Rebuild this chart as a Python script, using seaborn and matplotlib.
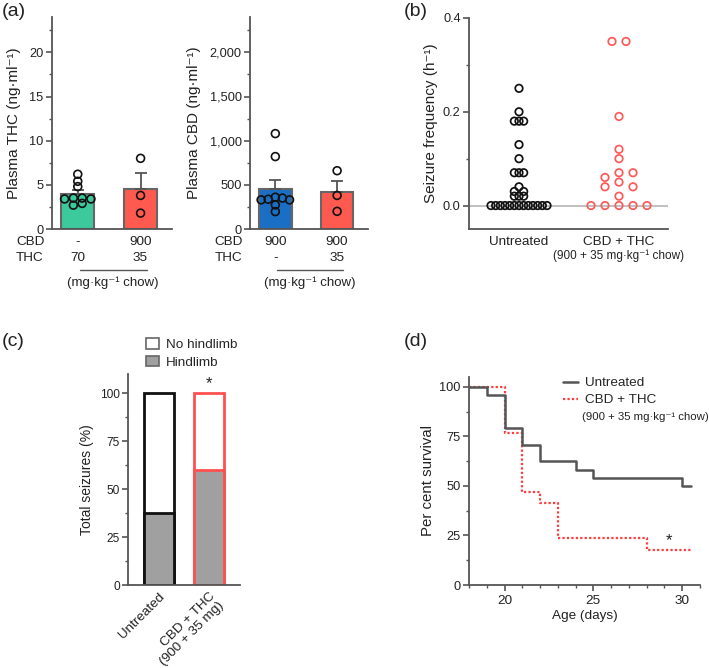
import numpy as np
import pandas as pd
import matplotlib
matplotlib.use("Agg")
import matplotlib.pyplot as plt
import seaborn as sns
from matplotlib.ticker import MultipleLocator, FuncFormatter, FormatStrFormatter
from matplotlib.patches import Patch
from matplotlib.lines import Line2D

# ---------------- data ----------------
thc_groups = ["THC 70", "CBD+THC"]
thc_thc70 = [6.2, 5.4, 4.8, 3.5, 3.5, 3.4, 3.4, 2.9, 2.7]
thc_combo = [8.0, 3.8, 1.8]
thc_cbd_row = ["-", "900"]
thc_thc_row = ["70", "35"]

cbd_groups = ["CBD 900", "CBD+THC"]
cbd_cbd900 = [1080, 820, 330, 360, 350, 330, 337, 273, 197]
cbd_combo = [660, 380, 200]
cbd_cbd_row = ["900", "900"]
cbd_thc_row = ["-", "35"]

freq_groups = ["Untreated", "CBD + THC"]
freq_untreated = [0.25, 0.20, 0.18, 0.18, 0.18, 0.13, 0.10, 0.07, 0.07, 0.07,
                  0.04, 0.03, 0.03, 0.02, 0.02, 0.02] + [0.0] * 13
freq_combo = [0.35, 0.35, 0.19, 0.12, 0.10, 0.07, 0.07, 0.06, 0.05, 0.04,
              0.04, 0.02, 0.0, 0.0, 0.0, 0.0, 0.0]

seiz_groups = ["Untreated", "CBD + THC\n(900 + 35 mg)"]
seiz_total = [100, 100]
seiz_hindlimb = [37.5, 60]

surv_untreated_day = [18, 19, 20, 21, 22, 24, 25, 30, 30.5]
surv_untreated_pct = [100, 95.8, 79.2, 70.8, 62.5, 58.3, 54.2, 50, 50]
surv_combo_day = [18, 20, 21, 22, 23, 28, 30.5]
surv_combo_pct = [100, 76.5, 47.1, 41.2, 23.5, 17.6, 17.6]

# ---------------- style ----------------
sns.set_style("ticks")
plt.rcParams["font.family"] = ["Liberation Sans", "DejaVu Sans"]
plt.rcParams["axes.edgecolor"] = "#555555"
plt.rcParams["xtick.color"] = "#555555"
plt.rcParams["ytick.color"] = "#555555"
plt.rcParams["xtick.labelcolor"] = "#222222"
plt.rcParams["ytick.labelcolor"] = "#222222"
plt.rcParams["axes.linewidth"] = 1.3
plt.rcParams["xtick.major.width"] = 1.2
plt.rcParams["ytick.major.width"] = 1.2
plt.rcParams["xtick.minor.width"] = 1.0
plt.rcParams["ytick.minor.width"] = 1.0

TXT = "#222222"
TICK_FS = 9.2
W, H = 709, 668
fig = plt.figure(figsize=(W / 100, H / 100), dpi=100)


def px_axes(x0, y0, x1, y1):
    return fig.add_axes([x0 / W, 1 - y1 / H, (x1 - x0) / W, (y1 - y0) / H])


def style_axes(ax):
    sns.despine(ax=ax)
    ax.tick_params(labelsize=TICK_FS, length=4)
    ax.tick_params(axis="y", pad=2)
    ax.tick_params(which="minor", length=2.5)


def centre_out(n, spacing):
    pos = (np.arange(n) - (n - 1) / 2) * spacing
    order = sorted(range(n), key=lambda i: (abs(pos[i]), -pos[i]))
    return pos[order]


def spread(values, clusters, spacing):
    values = np.asarray(values, dtype=float)
    clusters = np.asarray(clusters)
    out = np.zeros(len(values))
    for c in np.unique(clusters):
        idx = np.where(clusters == c)[0]
        idx = idx[np.argsort(-values[idx], kind="stable")]
        out[idx] = centre_out(len(idx), spacing)
    return out


def greedy_clusters(values, thr):
    values = np.asarray(values, dtype=float)
    order = np.argsort(-values, kind="stable")
    cl = np.zeros(len(values), dtype=int)
    cid, top = -1, None
    for i in order:
        if top is None or top - values[i] > thr:
            cid += 1
            top = values[i]
        cl[i] = cid
    return cl


def plasma_panel(ax, groups, a, b, colors, ymax, major, minor, ylabel,
                 row1, row2, fmt, binw, spacing):
    df = pd.DataFrame({"group": [groups[0]] * len(a) + [groups[1]] * len(b),
                       "val": a + b})
    sns.barplot(data=df, x="group", y="val", hue="group", order=groups,
                palette=dict(zip(groups, colors)), errorbar=None, width=0.53,
                saturation=1, edgecolor="#666666", linewidth=1.5, legend=False,
                ax=ax)
    stats = df.groupby("group")["val"].agg(["mean", "sem"]).reindex(groups)
    ax.errorbar(x=np.arange(len(groups)), y=stats["mean"],
                yerr=[np.zeros(len(groups)), stats["sem"]], fmt="none",
                ecolor="#555555", elinewidth=1.3, capsize=4, capthick=1.3, zorder=2)
    df["code"] = df["group"].map({g: i for i, g in enumerate(groups)})
    df["off"] = 0.0
    for g, sub in df.groupby("group"):
        df.loc[sub.index, "off"] = spread(sub["val"].values,
                                          np.floor(sub["val"].values / binw), spacing)
    df["xpos"] = df["code"] + df["off"]
    sns.scatterplot(data=df, x="xpos", y="val", color="black", s=32,
                    legend=False, ax=ax, zorder=4)
    for coll in ax.collections:
        if isinstance(coll, matplotlib.collections.PathCollection):
            coll.set_facecolor("none")
            coll.set_edgecolor("#111111")
            coll.set_linewidth(1.2)
    ax.set_ylim(0, ymax)
    ax.set_xlim(-0.41, 1.5)
    ax.yaxis.set_major_locator(MultipleLocator(major))
    ax.yaxis.set_minor_locator(MultipleLocator(minor))
    ax.yaxis.set_major_formatter(FuncFormatter(fmt))
    ax.set_xticks([])
    ax.set_xlabel("")
    ax.set_ylabel(ylabel, fontsize=11, color=TXT, labelpad=6)
    style_axes(ax)
    tr = ax.get_xaxis_transform()
    for i in range(len(groups)):
        ax.text(i, -0.06, row1[i], transform=tr, ha="center", va="center",
                fontsize=9.7, color=TXT)
        ax.text(i, -0.135, row2[i], transform=tr, ha="center", va="center",
                fontsize=9.7, color=TXT)
    ax.text(-0.3, -0.06, "CBD", transform=ax.transAxes, ha="left", va="center",
            fontsize=9.7, color=TXT)
    ax.text(-0.3, -0.135, "THC", transform=ax.transAxes, ha="left", va="center",
            fontsize=9.7, color=TXT)
    ax.plot([0.03, 1.1], [-0.195, -0.195], transform=tr, color="#555555",
            lw=1.0, clip_on=False)
    ax.text(0.56, -0.252, "(mg·kg⁻¹ chow)", transform=tr, ha="center",
            va="center", fontsize=9.5, color=TXT)


# ---------------- (a) ----------------
ax1 = px_axes(52, 17, 172, 229)
plasma_panel(ax1, thc_groups, thc_thc70, thc_combo, ["#3cc99b", "#ff5a4f"],
             24, 5, 2.5, "Plasma THC (ng·ml⁻¹)", thc_cbd_row, thc_thc_row,
             lambda v, p: f"{v:.0f}", 1.0, 0.14)
ax2 = px_axes(250, 17, 368, 229)
plasma_panel(ax2, cbd_groups, cbd_cbd900, cbd_combo, ["#1a6fc4", "#ff5a4f"],
             2400, 500, 250, "Plasma CBD (ng·ml⁻¹)", cbd_cbd_row, cbd_thc_row,
             lambda v, p: f"{v:,.0f}", 100, 0.115)

# ---------------- (b) ----------------
ax3 = px_axes(469, 18, 668, 229)
dfb = pd.DataFrame({"group": [freq_groups[0]] * len(freq_untreated) +
                    [freq_groups[1]] * len(freq_combo),
                    "val": freq_untreated + freq_combo})
dfb["code"] = dfb["group"].map({g: i for i, g in enumerate(freq_groups)})
dfb["off"] = 0.0
for g, sub in dfb.groupby("group"):
    cl = greedy_clusters(sub["val"].values, 0.016)
    spacing = min(0.14, 0.56 / (np.bincount(cl).max() - 1))
    dfb.loc[sub.index, "off"] = spread(sub["val"].values, cl, spacing)
dfb["xpos"] = dfb["code"] + dfb["off"]
ax3.axhline(0, color="#bbbbbb", lw=1.3, zorder=1)
sns.scatterplot(data=dfb, x="xpos", y="val", hue="group",
                palette={"Untreated": "#111111", "CBD + THC": "#ff5a5a"},
                s=29, legend=False, ax=ax3, zorder=3)
for coll in ax3.collections:
    fc = coll.get_facecolors()
    coll.set_edgecolors(fc)
    coll.set_facecolor("none")
    coll.set_linewidth(1.25)
ax3.set_xlim(-0.5, 1.49)
ax3.set_ylim(-0.05, 0.4)
ax3.yaxis.set_major_locator(MultipleLocator(0.2))
ax3.yaxis.set_minor_locator(MultipleLocator(0.1))
ax3.yaxis.set_major_formatter(FormatStrFormatter("%.1f"))
ax3.set_xticks([0, 1])
ax3.set_xticklabels(freq_groups)
ax3.set_xlabel("")
ax3.set_ylabel("Seizure frequency (h⁻¹)", fontsize=11, color=TXT, labelpad=3.5)
style_axes(ax3)
ax3.tick_params(axis="x", length=0, pad=5, labelsize=9.7)
ax3.text(1, -0.125, "(900 + 35 mg·kg⁻¹ chow)", transform=ax3.get_xaxis_transform(),
         ha="center", va="center", fontsize=8.5, color=TXT)

# ---------------- (c) ----------------
ax4 = px_axes(128, 374, 240, 585)
dfc = pd.DataFrame({"group": seiz_groups, "total": seiz_total,
                    "hind": seiz_hindlimb})
sns.barplot(data=dfc, x="group", y="total", color="white", width=0.6,
            linewidth=2, edgecolor="black", saturation=1, ax=ax4)
sns.barplot(data=dfc, x="group", y="hind", color="#a0a0a0", width=0.6,
            linewidth=2, edgecolor="black", saturation=1, ax=ax4)
edge_cols = ["#111111", "#ff5050"]
for i, p in enumerate(ax4.patches):
    p.set_edgecolor(edge_cols[i % 2])
    p.set_facecolor("white" if i < 2 else "#a0a0a0")
ax4.set_xlim(-0.62, 1.62)
ax4.set_ylim(0, 110)
ax4.yaxis.set_major_locator(MultipleLocator(25))
ax4.yaxis.set_minor_locator(MultipleLocator(12.5))
ax4.set_xlabel("")
ax4.set_ylabel("Total seizures (%)", fontsize=10, color=TXT, labelpad=4)
style_axes(ax4)
ax4.tick_params(axis="y", labelsize=8.6)
ax4.tick_params(axis="x", length=0, pad=4)
plt.setp(ax4.get_xticklabels(), rotation=45, ha="right", rotation_mode="anchor",
         fontsize=9.7, linespacing=1.05)
ax4.text(1, 105, "*", ha="center", va="center", fontsize=12, color=TXT)
fig.legend(handles=[Patch(facecolor="white", edgecolor="#666666", lw=1.2),
                    Patch(facecolor="#a0a0a0", edgecolor="#666666", lw=1.2)],
           labels=["No hindlimb", "Hindlimb"], loc="upper left",
           bbox_to_anchor=(146 / W, 1 - 338 / H), frameon=False, fontsize=9.7,
           handlelength=1.0, handleheight=0.85, handletextpad=0.5,
           labelspacing=0.35, borderaxespad=0, borderpad=0)

# ---------------- (d) ----------------
ax5 = px_axes(469, 377, 700, 585)
dfd = pd.DataFrame({"day": surv_untreated_day + surv_combo_day,
                    "surv": surv_untreated_pct + surv_combo_pct,
                    "group": ["Untreated"] * len(surv_untreated_day) +
                             ["CBD + THC"] * len(surv_combo_day)})
sns.lineplot(data=dfd[dfd.group == "CBD + THC"], x="day", y="surv",
             color="#ff3b3b", lw=1.6, linestyle=(0, (1, 1)),
             drawstyle="steps-post", ax=ax5, errorbar=None)
sns.lineplot(data=dfd[dfd.group == "Untreated"], x="day", y="surv",
             color="#555555", lw=1.8, drawstyle="steps-post", ax=ax5,
             errorbar=None)
ax5.set_xlim(18, 31)
ax5.set_ylim(0, 105)
ax5.xaxis.set_major_locator(MultipleLocator(5))
ax5.xaxis.set_minor_locator(MultipleLocator(1))
ax5.yaxis.set_major_locator(MultipleLocator(25))
ax5.yaxis.set_minor_locator(MultipleLocator(12.5))
ax5.set_xlabel("Age (days)", fontsize=9.7, color=TXT, labelpad=2)
ax5.set_ylabel("Per cent survival", fontsize=10.8, color=TXT, labelpad=3)
style_axes(ax5)
ax5.tick_params(axis="x", labelsize=9.7)
ax5.text(29.25, 22.5, "*", ha="center", va="center", fontsize=12, color=TXT)
ax5.legend(handles=[Line2D([], [], color="#555555", lw=1.8),
                    Line2D([], [], color="#ff3b3b", lw=1.6, linestyle=(0, (1, 1)))],
           labels=["Untreated", "CBD + THC"], loc="upper left",
           bbox_to_anchor=((563 - 469) / 231, 1.0), frameon=False,
           fontsize=9.7, handlelength=1.1, handletextpad=0.5,
           labelspacing=0.33, borderaxespad=0, borderpad=0)
ax5.text((582 - 469) / 231, (585 - 417) / 208, "(900 + 35 mg·kg⁻¹ chow)",
         transform=ax5.transAxes, ha="left", va="center", fontsize=8.2, color=TXT)

# ---------------- panel labels ----------------
for lab, x, y in [("(a)", 2, 12), ("(b)", 404, 12), ("(c)", 2, 342), ("(d)", 404, 342)]:
    fig.text(x / W, 1 - y / H, lab, fontsize=14, ha="left", va="center", color=TXT)

fig.savefig("out.png", dpi=100)
